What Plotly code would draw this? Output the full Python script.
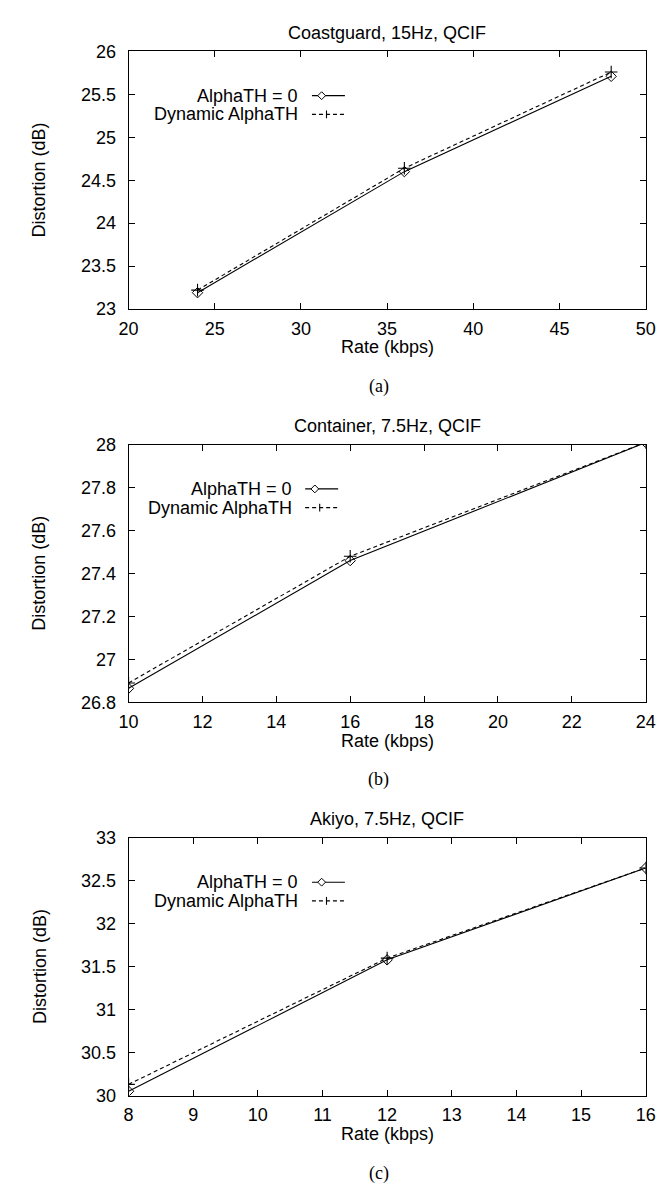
import plotly.graph_objects as go

# ---------------- data ----------------
titles = ["Coastguard, 15Hz, QCIF", "Container, 7.5Hz, QCIF", "Akiyo, 7.5Hz, QCIF"]
captions = ["(a)", "(b)", "(c)"]
series_names = ["AlphaTH = 0", "Dynamic AlphaTH"]

rate_a = [24, 36, 48]
alpha0_a = [23.19, 24.60, 25.71]
dyn_a = [23.22, 24.64, 25.76]

rate_b = [10, 16, 24]
alpha0_b = [26.865, 27.46, 28.01]
dyn_b = [26.89, 27.48, 28.01]

rate_c = [8, 12, 16]
alpha0_c = [30.05, 31.58, 32.65]
dyn_c = [30.13, 31.60, 32.65]

x_ranges = [[20, 50], [10, 24], [8, 16]]
x_dticks = [5, 2, 1]
y_ranges = [[23, 26], [26.8, 28], [30, 33]]
y_dticks = [0.5, 0.2, 0.5]

# ---------------- layout helpers ----------------
W, H = 669, 1186
def fx(px):
    return px / W
def fy(py):
    return 1 - py / H

PERIOD = 400
PLOT_L, PLOT_R = 114, 647
PLOT_T, PLOT_B = 34, 296

SANS = "Liberation Sans, Arial, sans-serif"
SERIF = "Liberation Serif, Times New Roman, serif"
FS = 18

fig = go.Figure()

panels = [
    (rate_a, alpha0_a, dyn_a),
    (rate_b, alpha0_b, dyn_b),
    (rate_c, alpha0_c, dyn_c),
]
legend_text_right = [291, 284, 291]

shapes = []
annotations = []

for i, (rx, y0, y1) in enumerate(panels):
    n = "" if i == 0 else str(i + 1)
    xa, ya = "x" + n, "y" + n
    fig.add_trace(go.Scatter(
        x=rx, y=y0, xaxis=xa, yaxis=ya, mode="lines+markers",
        name=series_names[0], showlegend=False,
        line=dict(color="black", width=1.1),
        marker=dict(symbol="diamond-open", size=8, color="black", line=dict(width=1, color="black")),
    ))
    fig.add_trace(go.Scatter(
        x=rx, y=y1, xaxis=xa, yaxis=ya, mode="lines+markers",
        name=series_names[1], showlegend=False,
        line=dict(color="black", width=1.1, dash="4px,3px"),
        marker=dict(symbol="cross-thin-open", size=9, color="black", line=dict(width=1.1, color="black")),
    ))

    top = PLOT_T + i * PERIOD
    bot = PLOT_B + i * PERIOD
    axis_common = dict(
        showline=True, linecolor="black", linewidth=1, mirror="ticks",
        ticks="inside", ticklen=6, tickwidth=1, tickcolor="black",
        showgrid=False, zeroline=False,
        tickfont=dict(family=SANS, size=FS, color="black"),
    )
    fig.update_layout(**{
        ("xaxis" + n): dict(
            domain=[fx(PLOT_L), fx(PLOT_R)], anchor=ya,
            range=x_ranges[i], dtick=x_dticks[i], tick0=x_ranges[i][0],
            ticklabelstandoff=3, **axis_common),
        ("yaxis" + n): dict(
            domain=[fy(bot), fy(top)], anchor=xa,
            range=y_ranges[i], dtick=y_dticks[i], tick0=y_ranges[i][0],
            ticklabelstandoff=8, **axis_common),
    })

    cx = (PLOT_L + PLOT_R) / 2
    # title
    annotations.append(dict(text=titles[i], x=fx(cx), y=fy(top - 19), xref="paper", yref="paper",
                            showarrow=False, xanchor="center", yanchor="middle",
                            font=dict(family=SANS, size=FS, color="black")))
    # x axis title
    annotations.append(dict(text="Rate (kbps)", x=fx(cx), y=fy(bot + 39), xref="paper", yref="paper",
                            showarrow=False, xanchor="center", yanchor="middle",
                            font=dict(family=SANS, size=FS, color="black")))
    # y axis title
    annotations.append(dict(text="Distortion (dB)", x=fx(22), y=fy((top + bot) / 2), xref="paper", yref="paper",
                            showarrow=False, xanchor="center", yanchor="middle", textangle=-90,
                            font=dict(family=SANS, size=FS, color="black")))
    # caption
    annotations.append(dict(text=captions[i], x=fx(372), y=fy(bot + 79), xref="paper", yref="paper",
                            showarrow=False, xanchor="center", yanchor="middle",
                            font=dict(family=SERIF, size=FS, color="black")))

    # legend (gnuplot style: text then sample)
    tr = legend_text_right[i]
    rows = [top + 45, top + 64]
    for k, name in enumerate(series_names):
        annotations.append(dict(text=name, x=fx(tr), y=fy(rows[k]), xref="paper", yref="paper",
                                showarrow=False, xanchor="right", yanchor="middle",
                                font=dict(family=SANS, size=FS, color="black")))
    s0, s1 = tr + 12, tr + 46
    r0 = rows[0]
    shapes.append(dict(type="line", xref="paper", yref="paper", x0=fx(s0), x1=fx(s1), y0=fy(r0), y1=fy(r0),
                       line=dict(color="black", width=1.1)))
    dcx = tr + 22
    shapes.append(dict(type="path", xref="paper", yref="paper",
                       path="M {a},{b} L {c},{d} L {a},{e} L {f},{d} Z".format(
                           a=fx(dcx), b=fy(r0 - 4), c=fx(dcx + 4), d=fy(r0), e=fy(r0 + 4), f=fx(dcx - 4)),
                       fillcolor="white", line=dict(color="black", width=1)))
    r1 = rows[1]
    shapes.append(dict(type="line", xref="paper", yref="paper", x0=fx(s0), x1=fx(s1), y0=fy(r1), y1=fy(r1),
                       line=dict(color="black", width=1.1, dash="4px,3px")))
    pcx = tr + 27
    shapes.append(dict(type="line", xref="paper", yref="paper", x0=fx(pcx), x1=fx(pcx), y0=fy(r1 - 4), y1=fy(r1 + 4),
                       line=dict(color="black", width=1.1)))

fig.update_layout(
    width=W, height=H, margin=dict(l=0, r=0, t=0, b=0),
    paper_bgcolor="white", plot_bgcolor="white",
    showlegend=False, shapes=shapes, annotations=annotations,
)

fig.write_html("out.html")
